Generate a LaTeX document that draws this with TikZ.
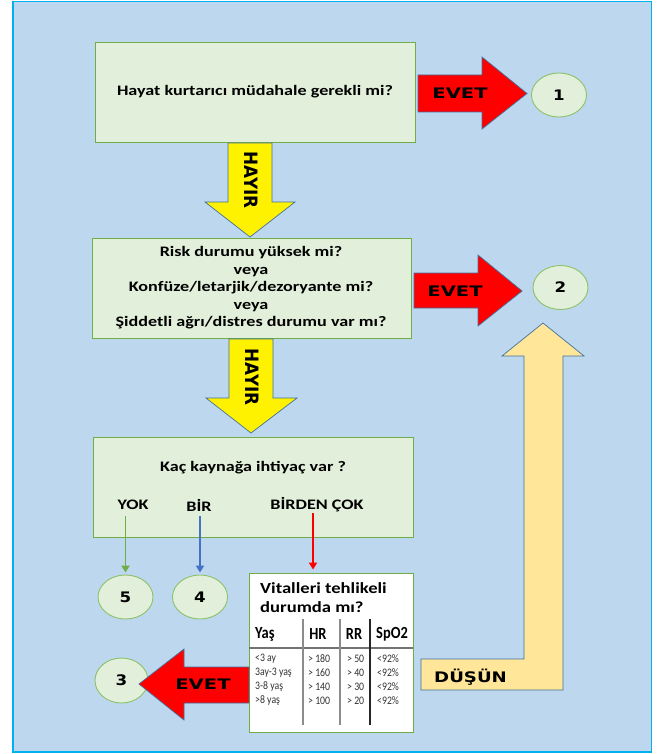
\documentclass[tikz,border=0pt]{standalone}
\usepackage{fontspec}
\usepackage{graphicx}
\setmainfont{Carlito}
\newfontfamily\heavy{DejaVu Sans}
\usetikzlibrary{shapes.geometric,arrows.meta}
\definecolor{bg}{HTML}{BDD7EE}
\definecolor{framec}{HTML}{00B0F0}
\definecolor{boxfill}{HTML}{E2EFDA}
\definecolor{boxline}{HTML}{70AD47}
\definecolor{circline}{HTML}{8CC168}
\definecolor{arrline}{HTML}{41719C}
\definecolor{dusunc}{HTML}{FFE699}
\definecolor{bluearr}{HTML}{4472C4}
\definecolor{greenarr}{HTML}{70AD47}
\newcommand{\sxx}[2]{\scalebox{#1}[1]{#2}}
\begin{document}
\begin{tikzpicture}[x=1pt,y=-1pt,
  box/.style={draw=boxline, fill=boxfill, line width=0.9pt, inner sep=0pt},
  circ/.style={ellipse, draw=circline, fill=boxfill, line width=0.9pt, minimum width=55pt, minimum height=44pt, inner sep=0pt},
  qtxt/.style={inner sep=0pt, font=\fontsize{14.5}{17.5}\selectfont\bfseries},
  bigtxt/.style={inner sep=0pt, font=\heavy\fontsize{14.5}{17}\selectfont\bfseries},
  redarrow/.style={fill=red, draw=arrline, line width=0.7pt, line join=miter},
  yelarrow/.style={fill=yellow, draw=arrline, line width=0.7pt, line join=miter},
  thinarr/.style={line width=1.9pt, -{Triangle[width=8pt,length=7pt]}},
  hdr/.style={inner sep=0pt, font=\fontsize{17}{19}\selectfont\bfseries},
  dat/.style={inner sep=0pt, anchor=west, text=black!80, font=\fontsize{11.5}{13}\selectfont},
]
\useasboundingbox (0,0) rectangle (659,754);
\fill[white] (0,0) rectangle (659,754);
\draw[fill=bg, draw=framec, line width=1.4pt] (13,1.5) rectangle (651.5,752);

% boxes
\node[box, minimum width=320pt, minimum height=100pt] (b1) at (255,92) {};
\node[box, minimum width=319pt, minimum height=100pt] (b2) at (251.5,288) {};
\node[box, minimum width=320pt, minimum height=100pt] (b3) at (253,487) {};
\node[box, fill=white, minimum width=164pt, minimum height=159pt] (vital) at (331,652.5) {};

\node[qtxt] (t1) at (b1.center) {\sxx{1.25}{Hayat kurtarıcı müdahale gerekli mi?}};
\node[qtxt] (t2) at (251,288) {\sxx{1.25}{\begin{tabular}{@{}c@{}}Risk durumu yüksek mi?\\ veya\\ Konfüze/letarjik/dezoryante mi?\\ veya\\ Şiddetli ağrı/distres durumu var mı?\end{tabular}}};
\node[qtxt] (t3) at (253,468) {\sxx{1.25}{Kaç kaynağa ihtiyaç var ?}};
\node[qtxt] (yok) at (133,505) {\sxx{1.25}{YOK}};
\node[qtxt] (bir) at (199,505) {\sxx{1.25}{BİR}};
\node[qtxt] (birden) at (317,505) {\sxx{1.25}{BİRDEN ÇOK}};

% circles
\node[circ] (c1) at (559,95) {};
\node[circ] (c2) at (560.5,287.5) {};
\node[circ, minimum width=53pt, minimum height=45pt] (c3) at (121.5,680.5) {};
\node[circ] (c4) at (200,597) {};
\node[circ] (c5) at (125.5,597) {};
\node[bigtxt] (n1) at (c1) {\sxx{1.15}{1}};
\node[bigtxt] (n2) at (c2) {\sxx{1.15}{2}};
\node[bigtxt] (n3) at (c3) {\sxx{1.15}{3}};
\node[bigtxt] (n4) at (c4) {\sxx{1.15}{4}};
\node[bigtxt] (n5) at (c5) {\sxx{1.15}{5}};

% red block arrows
\draw[redarrow] (418,75) -- (482,75) -- (482,57) -- (527,93.5) -- (482,129) -- (482,112) -- (418,112) -- cycle;
\draw[redarrow] (414,273) -- (478,273) -- (478,255) -- (522,291) -- (478,326) -- (478,308) -- (414,308) -- cycle;
\draw[redarrow] (249,667) -- (184,667) -- (184,649) -- (139,684) -- (184,720) -- (184,703) -- (249,703) -- cycle;
\node[bigtxt] (e1) at (460,93) {\sxx{1.35}{EVET}};
\node[bigtxt] (e2) at (455,291) {\sxx{1.35}{EVET}};
\node[bigtxt] (e3) at (203,684) {\sxx{1.35}{EVET}};

% yellow block arrows
\draw[yelarrow] (228,143) -- (272,143) -- (272,202) -- (295,202) -- (250,237) -- (205,202) -- (228,202) -- cycle;
\draw[yelarrow] (229,339) -- (273,339) -- (273,398) -- (297,398) -- (251,433) -- (206,398) -- (229,398) -- cycle;
\node[bigtxt, font=\heavy\fontsize{16}{18}\selectfont\bfseries, rotate=-90] (h1) at (251,180) {\scalebox{1.05}[1.15]{HAYIR}};
\node[bigtxt, font=\heavy\fontsize{16}{18}\selectfont\bfseries, rotate=-90] (h2) at (252,377) {\scalebox{1.05}[1.15]{HAYIR}};

% dusun arrow
\draw[fill=dusunc, draw=arrline, line width=0.7pt, line join=miter]
  (421,659) -- (524,659) -- (524,356) -- (502,356) -- (543,323) -- (584,356) -- (563,356) -- (563,690) -- (421,690) -- cycle;
\node[bigtxt, anchor=west] (dusun) at (434,677) {\sxx{1.25}{DÜŞÜN}};

% thin arrows
\draw[thinarr, greenarr, shorten <=6pt, shorten >=2pt] (yok.south -| c5.north) -- (c5.north);
\draw[thinarr, bluearr, shorten <=5pt, shorten >=2pt] (bir.south -| c4.north) -- (c4.north);
\coordinate (rt) at (313,513);
\draw[thinarr, red, shorten >=3pt] (rt) -- (rt |- vital.north);

% vital box content
\node[inner sep=0pt, anchor=west, font=\fontsize{15.5}{18}\selectfont\bfseries] (vt1) at (260,588) {\sxx{1.2}{Vitalleri tehlikeli}};
\node[inner sep=0pt, anchor=west, font=\fontsize{15.5}{18}\selectfont\bfseries] (vt2) at (260,607) {\sxx{1.2}{durumda mı?}};
\node[hdr, anchor=west] (hy) at (255,634) {\sxx{0.85}{Yaş}};
\node[hdr] (hhr) at (318,634) {\sxx{0.85}{HR}};
\node[hdr] (hrr) at (354,634) {\sxx{0.85}{RR}};
\node[hdr] (hsp) at (392,634) {\sxx{0.85}{SpO2}};
\draw[black!55, line width=1.3pt] (vital.west |- 0,648) -- (vital.east |- 0,648);
\draw[black!45, line width=1.1pt] (303,619) -- (303,725);
\draw[black!45, line width=1.1pt] (340,619) -- (340,725);
\draw[black!85, line width=1.1pt] (370,619) -- (370,725);
\node[dat] (r1a) at (255,659) {\sxx{0.85}{<3 ay}};
\node[dat] (r2a) at (255,673) {\sxx{0.85}{3ay-3 yaş}};
\node[dat] (r3a) at (255,687) {\sxx{0.85}{3-8 yaş}};
\node[dat] (r4a) at (255,701) {\sxx{0.85}{>8 yaş}};
\node[dat] (r1b) at (308,659) {\sxx{0.85}{> 180}};
\node[dat] (r2b) at (308,673) {\sxx{0.85}{> 160}};
\node[dat] (r3b) at (308,687) {\sxx{0.85}{> 140}};
\node[dat] (r4b) at (308,701) {\sxx{0.85}{> 100}};
\node[dat] (r1c) at (347,659) {\sxx{0.85}{> 50}};
\node[dat] (r2c) at (347,673) {\sxx{0.85}{> 40}};
\node[dat] (r3c) at (347,687) {\sxx{0.85}{> 30}};
\node[dat] (r4c) at (347,701) {\sxx{0.85}{> 20}};
\node[dat] (r1d) at (377,659) {\sxx{0.85}{<92\%}};
\node[dat] (r2d) at (377,673) {\sxx{0.85}{<92\%}};
\node[dat] (r3d) at (377,687) {\sxx{0.85}{<92\%}};
\node[dat] (r4d) at (377,701) {\sxx{0.85}{<92\%}};
\end{tikzpicture}
\end{document}
